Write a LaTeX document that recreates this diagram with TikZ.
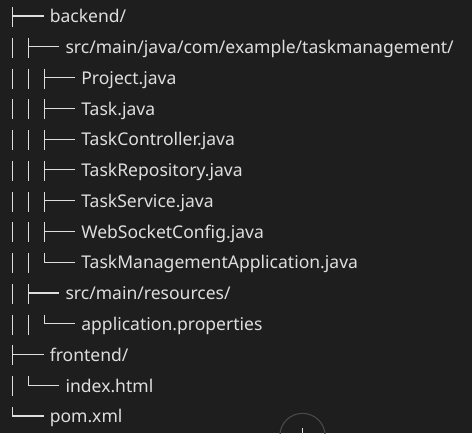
\documentclass[tikz,border=0pt]{standalone}
\usepackage{fontspec}
\setmainfont{Noto Sans}
\usepackage{xcolor}
\usepackage{tikz}
\usetikzlibrary{positioning}
\definecolor{bgdark}{HTML}{1E1E1E}
\definecolor{fgtext}{HTML}{DEDEDE}
\definecolor{ringgray}{HTML}{4A4A4A}
\begin{document}
\begin{tikzpicture}[
    x=0.75pt, y=-0.75pt, % pixel grid, y downwards
    entry/.style={anchor=base west,inner sep=0pt,text=fgtext,font=\fontsize{13.15}{15}\selectfont},
    branch/.style={draw=fgtext,line width=0.85pt}
]
    % Background and page size
    \fill[bgdark] (0,0) rectangle (472,433);
    \useasboundingbox (0,0) rectangle (472,433);

    % One row per entry: level / last child / name
    \foreach \lev/\last/\name [count=\i from 0] in {
        0/0/{backend/},
        1/0/{src/main/java/com/example/taskmanagement/},
        2/0/{Project.java},
        2/0/{Task.java},
        2/0/{TaskController.java},
        2/0/{TaskRepository.java},
        2/0/{TaskService.java},
        2/0/{WebSocketConfig.java},
        2/1/{TaskManagementApplication.java},
        1/0/{src/main/resources/},
        2/1/{application.properties},
        0/0/{frontend/},
        1/1/{index.html},
        0/1/{pom.xml}}
    {
        \pgfmathsetmacro{\ry}{16+30.77*\i}
        \pgfmathsetmacro{\jx}{12.5+15.8*\lev}
        \coordinate (j\i) at (\jx,\ry);
        \node[entry] (r\i) at (\jx+37,\ry+6.8) {\name};
        % bars of the outer levels
        \ifnum\lev>0
            \foreach \k in {1,...,\lev}
                \draw[branch] (12.5+15.8*\k-15.8,\ry-9) -- (12.5+15.8*\k-15.8,\ry+11);
        \fi
        % junction
        \ifnum\last=1
            \draw[branch] (\jx,\ry-9) -- (j\i) -- ++(31,0);
        \else
            \draw[branch] (\jx,\ry-9) -- (\jx,\ry+11);
            \draw[branch] (j\i) -- ++(31,0);
        \fi
    }

    % Round button cut by the lower edge
    \node[circle,draw=ringgray,line width=0.8pt,minimum size=34] (addbtn) at (302.5,436) {};
    \draw[branch] (addbtn.center) ++(0,-8) -- ++(0,16);
    \draw[branch] (addbtn.center) ++(-8,0) -- ++(16,0);
\end{tikzpicture}
\end{document}
